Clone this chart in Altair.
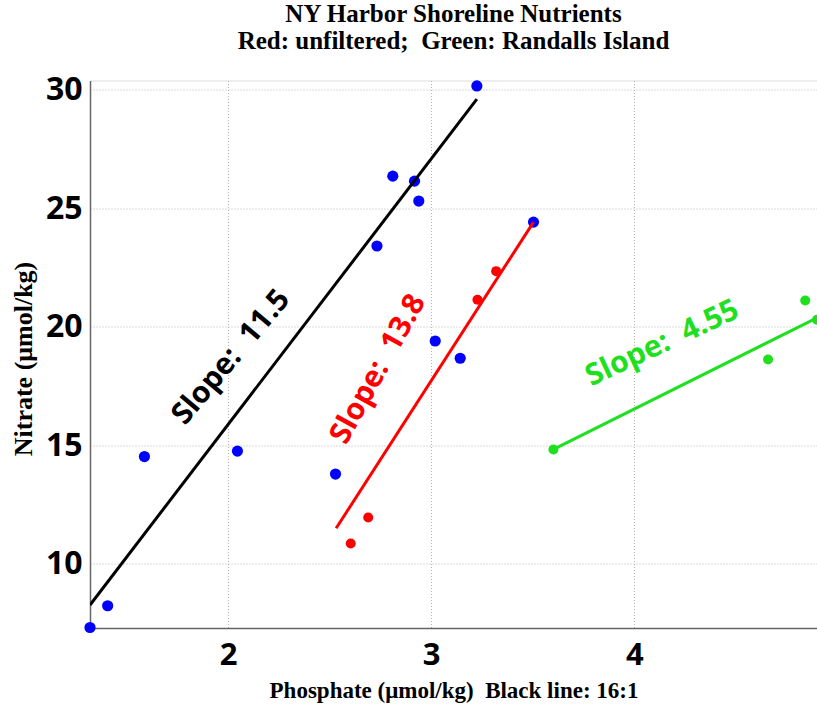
import altair as alt
import pandas as pd

# ---- data ----
blue_x = [1.32, 1.407, 1.588, 2.046, 2.529, 2.733, 2.811, 2.918, 2.939, 3.02, 3.143, 3.225, 3.504]
blue_y = [7.3, 8.22, 14.52, 14.75, 13.78, 23.41, 26.36, 26.15, 25.31, 19.40, 18.67, 30.17, 24.42]
red_x = [2.604, 2.69, 3.228, 3.32]
red_y = [10.85, 11.95, 21.14, 22.35]
green_x = [3.602, 4.659, 4.842, 4.9]
green_y = [14.82, 18.62, 21.11, 20.3]

black_line_x = [1.32, 3.225]
black_line_y = [8.25, 29.61]
red_line_x = [2.532, 3.504]
red_line_y = [11.49, 24.42]
green_line_x = [3.602, 4.9]
green_line_y = [14.82, 20.38]

label_text = ["Slope:\u00a0 11.5", "Slope:\u00a0 13.8", "Slope:\u00a0 4.55"]
label_x = [2.015, 2.739, 4.138]
label_y = [18.71, 18.21, 19.30]
label_angle = [310, 299, 335]
label_color = ["black", "red", "green"]

x_ticks = [2, 3, 4]
y_ticks = [10, 15, 20, 25, 30]

X_DOMAIN = [1.32, 4.9]
Y_DOMAIN = [7.28, 30.4]

colors = {"black": "#000000", "red": "#ff0000", "green": "#1ee01e", "blue": "#0000ff"}

pts = pd.DataFrame(
    {"x": blue_x + red_x + green_x,
     "y": blue_y + red_y + green_y,
     "grp": ["blue"] * len(blue_x) + ["red"] * len(red_x) + ["green"] * len(green_x)}
)
lines = pd.DataFrame(
    {"x": black_line_x + red_line_x + green_line_x,
     "y": black_line_y + red_line_y + green_line_y,
     "grp": ["black"] * 2 + ["red"] * 2 + ["green"] * 2}
)
labels = pd.DataFrame({"t": label_text, "x": label_x, "y": label_y,
                       "a": label_angle, "grp": label_color})

cscale = alt.Scale(domain=list(colors.keys()), range=list(colors.values()))

xs = alt.Scale(domain=X_DOMAIN, nice=False, zero=False)
ys = alt.Scale(domain=Y_DOMAIN, nice=False, zero=False)

xaxis = alt.Axis(values=x_ticks, format="d", title="Phosphate (\u03bcmol/kg)\u00a0 Black line: 16:1",
                 labelFont="Open Sans", labelFontWeight="bold", labelFontSize=31,
                 labelColor="black", labelPadding=12, ticks=False,
                 titleFont="Liberation Serif", titleFontWeight="bold", titleFontSize=23,
                 titleColor="black", titleBaseline="alphabetic", titleY=69,
                 grid=True, gridColor="#b4b4b4", gridDash=[1, 2], gridWidth=1,
                 domainColor="#666666", domainWidth=1.5)
yaxis = alt.Axis(values=y_ticks, format="d", title="Nitrate (\u03bcmol/kg)",
                 labelFont="Open Sans", labelFontWeight="bold", labelFontSize=32,
                 labelColor="black", labelPadding=8, ticks=False,
                 titleFont="Liberation Serif", titleFontWeight="bold", titleFontSize=26,
                 titleColor="black", titleX=-67, titleY=278, titleBaseline="middle",
                 grid=True, gridColor="#b4b4b4", gridDash=[1, 2], gridWidth=1,
                 domainColor="#666666", domainWidth=1.5)

base_pts = alt.Chart(pts)

blue_layer = base_pts.transform_filter(alt.datum.grp == "blue").mark_circle(
    size=125, opacity=1, clip=False
).encode(
    x=alt.X("x:Q", scale=xs, axis=xaxis),
    y=alt.Y("y:Q", scale=ys, axis=yaxis),
    color=alt.Color("grp:N", scale=cscale, legend=None),
)

line_layer = alt.Chart(lines).mark_line(strokeWidth=3, clip=True).encode(
    x=alt.X("x:Q", scale=xs),
    y=alt.Y("y:Q", scale=ys),
    color=alt.Color("grp:N", scale=cscale, legend=None),
    detail="grp:N",
)

other_layer = base_pts.transform_filter(alt.datum.grp != "blue").mark_circle(
    size=100, opacity=1, clip=False
).encode(
    x=alt.X("x:Q", scale=xs),
    y=alt.Y("y:Q", scale=ys),
    color=alt.Color("grp:N", scale=cscale, legend=None),
)

text_layer = alt.Chart(labels).mark_text(
    font="Open Sans", fontWeight="bold", fontSize=30, align="center", baseline="middle"
).encode(
    x=alt.X("x:Q", scale=xs),
    y=alt.Y("y:Q", scale=ys),
    text="t:N",
    angle=alt.Angle("a:Q", scale=None),
    color=alt.Color("grp:N", scale=cscale, legend=None),
)

chart = alt.layer(blue_layer, line_layer, other_layer, text_layer).properties(
    width=727,
    height=547.5,
    title=alt.TitleParams(
        text=["NY Harbor Shoreline Nutrients", "Red: unfiltered;\u00a0 Green: Randalls Island"],
        font="Liberation Serif", fontWeight="bold", fontSize=25, color="black",
        anchor="middle", offset=20, lineHeight=27,
    ),
    autosize=alt.AutoSizeParams(type="none"),
    padding={"left": 90, "top": 80.5, "right": 0, "bottom": 82},
).configure_view(stroke=None).configure(background="white")

chart.save("out.html", embed_options={"renderer": "svg", "actions": False})
